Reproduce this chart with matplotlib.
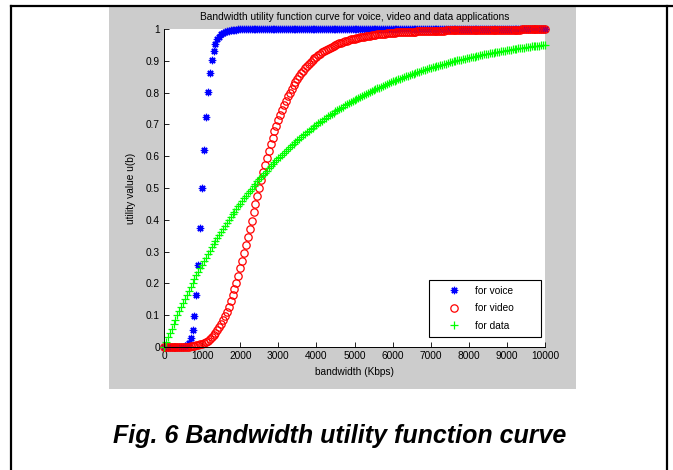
import numpy as np
import matplotlib
matplotlib.use("Agg")
import matplotlib.pyplot as plt
from matplotlib.patches import Rectangle
from matplotlib.lines import Line2D

plt.rcParams['font.family'] = ['Liberation Sans', 'DejaVu Sans']

# bandwidth grid in Kbps (one sample every 50 Kbps)
bandwidth = np.arange(0, 10001, 50)

voice = [
    0, 0, 0, 0, 0, 0, 0, 0, 0, 0, 0.001, 0.003, 0.006, 0.013, 0.027, 0.053, 0.097, 0.165, 0.259, 0.375,
    0.5, 0.62, 0.722, 0.802, 0.861, 0.903, 0.932, 0.953, 0.967, 0.976, 0.983, 0.988, 0.991, 0.993, 0.995, 0.996, 0.997, 0.998, 0.998, 0.999,
    0.999, 0.999, 0.999, 0.999, 0.999, 0.999, 1, 1, 1, 1, 1, 1, 1, 1, 1, 1, 1, 1, 1, 1,
    1, 1, 1, 1, 1, 1, 1, 1, 1, 1, 1, 1, 1, 1, 1, 1, 1, 1, 1, 1,
    1, 1, 1, 1, 1, 1, 1, 1, 1, 1, 1, 1, 1, 1, 1, 1, 1, 1, 1, 1,
    1, 1, 1, 1, 1, 1, 1, 1, 1, 1, 1, 1, 1, 1, 1, 1, 1, 1, 1, 1,
    1, 1, 1, 1, 1, 1, 1, 1, 1, 1, 1, 1, 1, 1, 1, 1, 1, 1, 1, 1,
    1, 1, 1, 1, 1, 1, 1, 1, 1, 1, 1, 1, 1, 1, 1, 1, 1, 1, 1, 1,
    1, 1, 1, 1, 1, 1, 1, 1, 1, 1, 1, 1, 1, 1, 1, 1, 1, 1, 1, 1,
    1, 1, 1, 1, 1, 1, 1, 1, 1, 1, 1, 1, 1, 1, 1, 1, 1, 1, 1, 1,
    1,
]

video = [
    0, 0, 0, 0, 0, 0, 0, 0, 0, 0, 0, 0.001, 0.001, 0.001, 0.002, 0.002, 0.003, 0.005, 0.006, 0.008,
    0.010, 0.013, 0.016, 0.020, 0.025, 0.030, 0.037, 0.044, 0.052, 0.062, 0.072, 0.084, 0.097, 0.111, 0.127, 0.144, 0.162, 0.182, 0.202, 0.224,
    0.247, 0.271, 0.295, 0.320, 0.345, 0.371, 0.397, 0.423, 0.449, 0.475, 0.500, 0.525, 0.549, 0.572, 0.595, 0.617, 0.638, 0.658, 0.678, 0.696,
    0.713, 0.730, 0.746, 0.761, 0.775, 0.788, 0.800, 0.812, 0.823, 0.834, 0.843, 0.852, 0.861, 0.869, 0.877, 0.884, 0.890, 0.897, 0.902, 0.908,
    0.913, 0.918, 0.922, 0.927, 0.931, 0.934, 0.938, 0.941, 0.944, 0.947, 0.950, 0.952, 0.955, 0.957, 0.959, 0.961, 0.963, 0.965, 0.967, 0.968,
    0.970, 0.971, 0.973, 0.974, 0.975, 0.976, 0.977, 0.978, 0.979, 0.980, 0.981, 0.982, 0.983, 0.983, 0.984, 0.985, 0.985, 0.986, 0.987, 0.987,
    0.988, 0.988, 0.989, 0.989, 0.990, 0.990, 0.990, 0.991, 0.991, 0.991, 0.992, 0.992, 0.992, 0.993, 0.993, 0.993, 0.993, 0.994, 0.994, 0.994,
    0.994, 0.994, 0.995, 0.995, 0.995, 0.995, 0.995, 0.995, 0.996, 0.996, 0.996, 0.996, 0.996, 0.996, 0.996, 0.997, 0.997, 0.997, 0.997, 0.997,
    0.997, 0.997, 0.997, 0.997, 0.997, 0.998, 0.998, 0.998, 0.998, 0.998, 0.998, 0.998, 0.998, 0.998, 0.998, 0.998, 0.998, 0.998, 0.998, 0.998,
    0.998, 0.998, 0.998, 0.998, 0.998, 0.998, 0.998, 0.998, 0.999, 0.999, 0.999, 0.999, 0.999, 0.999, 0.999, 0.999, 0.999, 0.999, 0.999, 0.999,
    0.999,
]

data = [
    0, 0.015, 0.030, 0.044, 0.058, 0.072, 0.086, 0.100, 0.113, 0.126, 0.139, 0.152, 0.165, 0.177, 0.189, 0.201, 0.213, 0.225, 0.237, 0.248,
    0.259, 0.270, 0.281, 0.292, 0.302, 0.313, 0.323, 0.333, 0.343, 0.353, 0.362, 0.372, 0.381, 0.390, 0.400, 0.408, 0.417, 0.426, 0.435, 0.443,
    0.451, 0.459, 0.467, 0.475, 0.483, 0.491, 0.498, 0.506, 0.513, 0.521, 0.528, 0.535, 0.542, 0.548, 0.555, 0.562, 0.568, 0.575, 0.581, 0.587,
    0.593, 0.599, 0.605, 0.611, 0.617, 0.623, 0.628, 0.634, 0.639, 0.645, 0.650, 0.655, 0.660, 0.666, 0.670, 0.675, 0.680, 0.685, 0.690, 0.694,
    0.699, 0.703, 0.708, 0.712, 0.716, 0.721, 0.725, 0.729, 0.733, 0.737, 0.741, 0.745, 0.748, 0.752, 0.756, 0.760, 0.763, 0.767, 0.770, 0.774,
    0.777, 0.780, 0.784, 0.787, 0.790, 0.793, 0.796, 0.799, 0.802, 0.805, 0.808, 0.811, 0.814, 0.816, 0.819, 0.822, 0.825, 0.827, 0.830, 0.832,
    0.835, 0.837, 0.840, 0.842, 0.844, 0.847, 0.849, 0.851, 0.853, 0.856, 0.858, 0.860, 0.862, 0.864, 0.866, 0.868, 0.870, 0.872, 0.874, 0.876,
    0.878, 0.879, 0.881, 0.883, 0.885, 0.886, 0.888, 0.890, 0.891, 0.893, 0.895, 0.896, 0.898, 0.899, 0.901, 0.902, 0.904, 0.905, 0.907, 0.908,
    0.909, 0.911, 0.912, 0.913, 0.915, 0.916, 0.917, 0.918, 0.920, 0.921, 0.922, 0.923, 0.924, 0.925, 0.927, 0.928, 0.929, 0.930, 0.931, 0.932,
    0.933, 0.934, 0.935, 0.936, 0.937, 0.938, 0.939, 0.940, 0.940, 0.941, 0.942, 0.943, 0.944, 0.945, 0.946, 0.946, 0.947, 0.948, 0.949, 0.950,
    0.950,
]

x_ticks = [0, 1000, 2000, 3000, 4000, 5000, 6000, 7000, 8000, 9000, 10000]
y_ticks = [0, 0.1, 0.2, 0.3, 0.4, 0.5, 0.6, 0.7, 0.8, 0.9, 1]
y_tick_labels = ['0', '0.1', '0.2', '0.3', '0.4', '0.5', '0.6', '0.7', '0.8', '0.9', '1']
series_labels = ['for voice', 'for video', 'for data']

W, H = 673, 470
fig = plt.figure(figsize=(W / 100, H / 100), dpi=100)
fig.patch.set_facecolor('white')

# grey figure panel
fig.add_artist(Rectangle((109 / W, 1 - 389 / H), 467 / W, 382 / H,
                         transform=fig.transFigure, facecolor='#cccccc',
                         edgecolor='none', zorder=0))

# page frame
frame_kw = dict(transform=fig.transFigure, color='black', linewidth=1.6)
fig.add_artist(Line2D([11 / W, 11 / W], [0, 1 - 6 / H], **frame_kw))
fig.add_artist(Line2D([11 / W, 1.0], [1 - 6 / H, 1 - 6 / H], **frame_kw))
fig.add_artist(Line2D([667 / W, 667 / W], [0, 1 - 6 / H], **frame_kw))

ax = fig.add_axes([164 / W, 1 - 347 / H, 381 / W, 318 / H])
ax.set_facecolor('white')

fs = 7.3
mkw = dict(linestyle='none', markersize=5.3, markeredgewidth=0.9, clip_on=False)
ax.plot(bandwidth, voice, marker=(8, 2, 0), color='#0000ff', label=series_labels[0], **mkw)
ax.plot(bandwidth, video, marker='o', color='#ff0000', markerfacecolor='none',
        label=series_labels[1], **mkw)
ax.plot(bandwidth, data, marker='+', color='#00ff00', label=series_labels[2], **mkw)

ax.set_xlim(0, 10000)
ax.set_ylim(0, 1)
ax.set_xticks(x_ticks)
ax.set_xticklabels([str(t) for t in x_ticks])
ax.set_yticks(y_ticks)
ax.set_yticklabels(y_tick_labels)
ax.tick_params(direction='in', length=3.5, width=0.6, labelsize=fs, pad=3,
               colors='black', top=False, right=False)
for side in ('top', 'right'):
    ax.spines[side].set_visible(False)
for side in ('left', 'bottom'):
    ax.spines[side].set_linewidth(0.7)

ax.set_title('Bandwidth utility function curve for voice, video and data applications',
             fontsize=fs, pad=6.5)
ax.set_xlabel('bandwidth (Kbps)', fontsize=fs, labelpad=4)
ax.set_ylabel('utility value u(b)', fontsize=fs, labelpad=7)

leg = ax.legend(loc='lower left', bbox_to_anchor=(0.6955, 0.0314, 0.294, 0.1824),
                mode='expand', borderaxespad=0, fontsize=fs, frameon=True,
                fancybox=False, edgecolor='black', framealpha=1, borderpad=0.6,
                handlelength=3.8, handletextpad=0.1, labelspacing=0.75, numpoints=1)
leg.get_frame().set_linewidth(0.8)

fig.text(340 / W, 1 - 436 / H, 'Fig. 6 Bandwidth utility function curve',
         ha='center', va='center', fontsize=18, fontweight='bold', fontstyle='italic')

fig.savefig('out.png', dpi=100)
